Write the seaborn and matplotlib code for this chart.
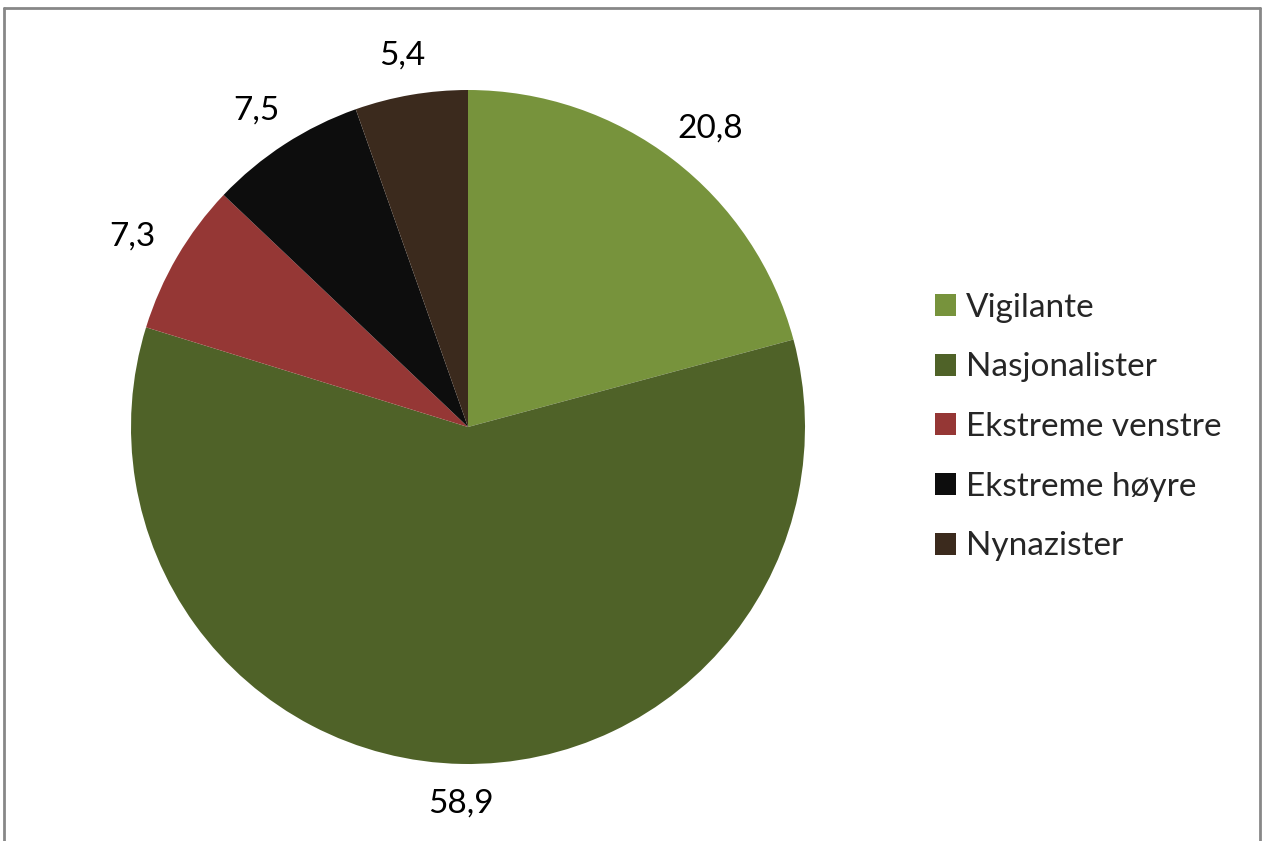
import matplotlib
matplotlib.use('Agg')
import numpy as np
import matplotlib.pyplot as plt
import seaborn as sns
from matplotlib.lines import Line2D

categories = ['Vigilante', 'Nasjonalister', 'Ekstreme venstre', 'Ekstreme høyre', 'Nynazister']
values = [20.8, 58.9, 7.3, 7.5, 5.4]
value_labels = ['20,8', '58,9', '7,3', '7,5', '5,4']
colors = ['#77933C', '#4F6228', '#953735', '#0D0D0D', '#3B2A1D']

sns.set_theme(style='white')
plt.rcParams['font.family'] = ['Lato', 'DejaVu Sans']

W, H = 1264, 841
fig = plt.figure(figsize=(W / 100, H / 100), dpi=100)

# pie placed so centre is at (468, 427) px with radius 337 px
cx, cy, r = 468, 427, 337
ax = fig.add_axes([(cx - r) / W, (H - cy - r) / H, 2 * r / W, 2 * r / H])
wedges, texts = ax.pie(values, labels=value_labels, colors=colors, startangle=90,
                       counterclock=False, labeldistance=1.1,
                       textprops={'fontsize': 24, 'color': 'black'},
                       wedgeprops={'linewidth': 0})
ax.set_xlim(-1, 1)
ax.set_ylim(-1, 1)
ax.set_aspect('equal')
ax.axis('off')

# "outside end" labels: box sits just outside the rim, pushed out by half its size
fig.canvas.draw()
renderer = fig.canvas.get_renderer()
for w, t in zip(wedges, texts):
    theta = np.deg2rad((w.theta1 + w.theta2) / 2)
    bb = t.get_window_extent(renderer)
    half_w = bb.width / 2 / r
    half_h = (bb.height / 2 - 4) / r
    d = 1.085
    t.set_position((d * np.cos(theta) + half_w * np.cos(theta),
                    d * np.sin(theta) + half_h * np.sin(theta)))
    t.set_horizontalalignment('center')
    t.set_verticalalignment('center')

fig.legend(wedges, categories, loc='center left', bbox_to_anchor=(935 / W, 1 - 427 / H),
           frameon=False, fontsize=24, handlelength=0.63, handleheight=0.63,
           handletextpad=0.3, labelspacing=0.89, borderpad=0, borderaxespad=0)

# outer chart border (bottom edge is cut off)
border = dict(color='#878787', linewidth=2, transform=fig.transFigure)
fig.add_artist(Line2D([4 / W, 4 / W], [0, 1 - 8 / H], **border))
fig.add_artist(Line2D([4 / W, 1260 / W], [1 - 8 / H, 1 - 8 / H], **border))
fig.add_artist(Line2D([1260 / W, 1260 / W], [1 - 8 / H, 0], **border))

fig.savefig('out.png', dpi=100)
